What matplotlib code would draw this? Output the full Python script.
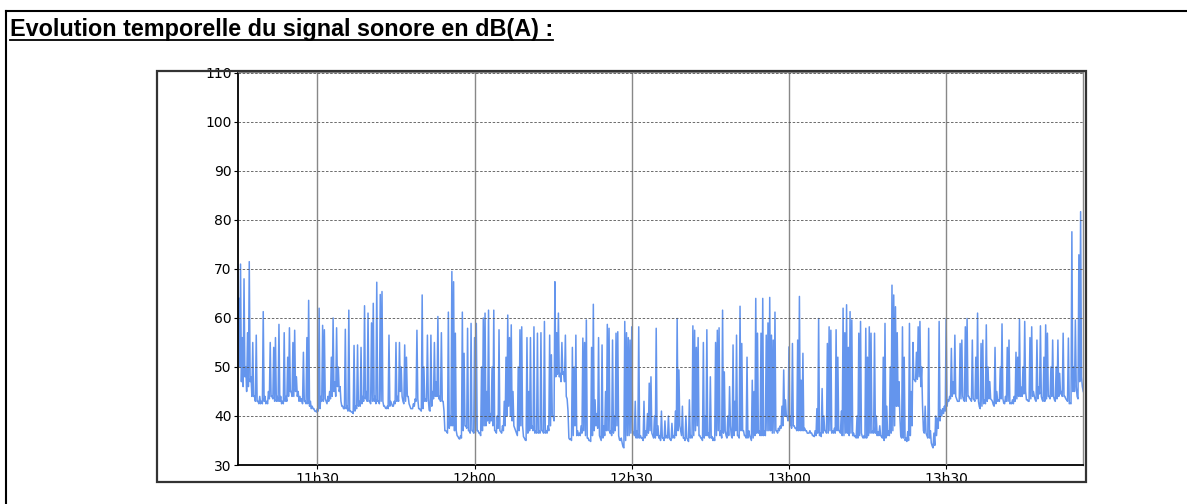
import numpy as np
import matplotlib
matplotlib.use("Agg")
import matplotlib.pyplot as plt
from matplotlib.patches import Rectangle
from matplotlib.lines import Line2D

# dB(A) readings, one every 20 s starting 11h15
# levels_* = peak of each 20 s slot, floors_* = lowest value in the same slot
levels_1115 = [64, 71, 56, 68, 50, 57, 71.5, 48, 55, 44, 56.5, 43, 44, 43, 61.3, 44,
               43, 45, 55, 44, 54, 56, 44, 58.7, 44, 43, 57, 44, 52, 58, 45, 55,
               57.5, 48, 45, 44, 43.5, 53, 43, 56, 63.6, 43, 42, 41.5, 41, 41.5, 62, 44,
               58.5, 57.6, 43, 44, 45, 52, 60, 47, 58, 50, 46, 42, 41.5, 57.7, 42, 61.6,
               41, 40.8, 54.4, 42, 54.5, 43, 54, 44, 62.5, 45, 61, 43, 59, 63, 44, 67.3,
               43, 64.8, 65.4, 42, 41.6, 42, 56.5, 43, 42, 43, 55, 44, 55, 50, 43, 54.5]
floors_1115 = [50, 47, 46, 48, 45, 46, 47, 44, 44, 43,
               43, 42.5, 42.5, 42.5, 43, 42.5, 42.5, 43.5, 44, 43.5,
               43, 43, 43, 43, 42.5, 42.5, 43, 43, 44, 45,
               44, 44, 45, 44, 43, 43, 42.5, 43, 42.5, 42.5,
               42, 41.5, 41.5, 41, 40.8, 41, 41.5, 43, 43, 43.5,
               42.5, 43, 43.5, 44, 45, 44, 46, 45, 43, 42,
               41.5, 41.5, 41, 41, 40.8, 40.5, 41, 41.5, 42, 42,
               42.5, 43, 43.5, 43, 43, 42.5, 43, 43, 42.5, 43,
               42.5, 43, 43, 42, 41.5, 41.5, 42, 42.5, 42, 42.5,
               43, 43, 45, 44, 42.5, 43]

levels_1147 = [52, 44, 42, 41.5, 42.5, 43.5, 57.5, 41.5, 41.2, 64.7, 50, 43.5, 56.5, 41.2, 56.5, 45,
               55, 47, 60.3, 44, 57, 43, 37, 36.8, 61.2, 40, 69.5, 67.4, 56.9, 36, 35.4, 36,
               61.2, 52.8, 38, 57.9, 37, 58.9, 37, 56, 58.9, 37, 36.5, 50, 60, 61, 45, 61.6,
               40.5, 50, 61.6, 37, 40, 57.6, 36.8, 38, 43, 52, 60.6, 56, 58.6, 45, 37.5, 36.5,
               50, 57.6, 58.2, 35.8, 35.1, 56, 45, 56, 38, 58.2, 37, 56.9, 37, 57, 37, 59.3,
               37, 38, 56.5, 52.5, 40, 67.4, 57, 61, 48.7, 55, 49, 56.5, 43.5, 35.5, 35.4, 54, 50]
floors_1147 = [44, 42.5, 41.5, 41.5, 42, 43, 43.5, 41.5, 41, 41.5,
               43, 43, 43.5, 41, 42, 43.5, 44, 44, 43.5, 43,
               43, 41, 37, 36.5, 37.5, 38, 38, 37, 37, 35.8,
               35.3, 35.5, 37, 38, 37.5, 37, 36.5, 37, 36.5, 36.5,
               37, 36.5, 36, 37, 38, 38, 39, 38.5, 39, 38,
               37, 36.5, 37.5, 37, 36.5, 37, 38, 40, 42, 40,
               39, 38, 37, 36, 37, 38, 38, 35.5, 35, 36.5,
               37, 37.5, 37, 36.5, 36.5, 36.5, 36.5, 37, 36.5, 36.5,
               36.5, 37, 38, 40, 39, 48, 48.5, 48, 47, 48.5,
               47, 44, 41, 35.2, 35, 36, 38]

levels_1219 = [56.5, 37, 36.5, 38, 55.9, 55, 59.6, 35.5, 35, 54, 62.8, 43.3, 40.5, 56, 35.5, 54.5,
               38, 45, 58.7, 57.9, 37, 55.5, 40, 56.9, 57.2, 35.1, 35.5, 33.7, 59.3, 57, 56, 55.5,
               58.2, 36.5, 43, 37, 58.2, 36, 35.5, 43, 37, 40.5, 46.7, 48, 36, 40, 57.9, 38,
               36, 41, 35.5, 39, 36, 40, 35.2, 38.5, 36, 41, 59.9, 49.4, 37, 42, 35.5, 40,
               35.2, 43.3, 36, 58.4, 57.5, 54, 56, 36, 35.5, 55, 40, 57.6, 36.5, 48, 35.8, 35.5,
               55, 57.5, 58, 37, 61.6, 49, 36, 40, 46, 36, 54.5, 43, 56.5, 36, 62.4, 54.8, 37]
floors_1219 = [36, 36, 36, 36.5, 37, 36, 35.5, 35, 34.8, 36,
               37, 38, 37.5, 36, 35, 35.5, 36, 37, 37, 36.5,
               36, 36.5, 37, 38, 36, 35, 34.5, 33.5, 35, 36,
               36, 36.5, 37, 36, 35.5, 35.5, 35.5, 35.5, 35, 35.5,
               36, 36.5, 37, 36.5, 35.5, 35.5, 36, 35.5, 35, 35.5,
               35, 35.5, 35.5, 35.5, 35, 35.5, 35.5, 36, 37, 38,
               36, 35.5, 35, 35.5, 34.8, 35.5, 35.5, 36, 37, 38,
               36, 35.5, 35, 35.5, 36, 36, 35.5, 35.5, 35, 35,
               36, 37, 36, 35.5, 36.5, 37, 35.5, 36, 38, 35.5,
               36, 37, 36, 35.5, 37, 37, 36]

levels_1251 = [36, 52, 37, 35.5, 47.3, 45, 64, 56.9, 37, 56.9, 64, 37, 56.5, 59, 64.2, 56.5,
               55.5, 61.2, 37, 37.5, 38, 42, 49.4, 43.3, 40, 54.1, 40, 54.8, 38, 37.5, 55.5, 64.4,
               47.3, 52.8, 37.5, 37, 36.5, 37, 36.5, 36, 37, 41.5, 59.9, 36.5, 45.6, 40, 37, 54.8,
               58.2, 57.5, 37, 37.5, 57.6, 52, 37, 41, 62, 57, 62.7, 54, 61.3, 59.6, 36.5, 36,
               40, 56.9, 59.3, 35.8, 36, 57.9, 52, 58.2, 56.9, 37, 56.9, 40, 36.8, 38, 35.8, 52,
               58.9, 42, 37, 50, 66.7, 64.7, 62.3, 57, 47, 36, 58.2, 52, 35.5, 36.8, 58.9, 45]
floors_1251 = [35.5, 35.5, 36, 35, 35.5, 36, 36.5, 36.5, 36, 36,
               36, 36, 37, 37, 37, 36.5, 36.5, 37, 36.5, 37,
               37.5, 38, 40, 40, 39, 38, 37.5, 38, 37.5, 37,
               37, 37, 37, 37, 37, 36.5, 36.5, 36.5, 36, 35.8,
               36, 36.5, 36, 35.8, 36.5, 37, 36.5, 36.5, 37, 36.5,
               36.5, 36.5, 37, 37, 36.5, 36, 36, 36.5, 36.5, 36,
               36.5, 36, 35.8, 35.5, 35.5, 36, 36.5, 35.5, 35.5, 35.5,
               36, 36.5, 36.5, 36.5, 36.5, 36, 36, 36, 35.5, 35,
               35.5, 36, 36, 36.5, 37, 38, 42, 42, 40, 35.5,
               35.5, 35, 34.8, 35, 36, 38]

levels_1323 = [55, 47.3, 53, 58.2, 59.3, 50, 37, 42, 36, 57.9, 37, 33.9, 36.5, 40, 39.5, 59.3,
               41.2, 41.5, 42, 59.9, 43.3, 44, 53.8, 47, 56.5, 43.5, 43, 54.8, 55.5, 43.3, 58.2, 59.9,
               44, 43.5, 55.5, 43.3, 52, 61, 41.9, 54.8, 55.5, 43.3, 58.6, 50, 47, 43.3, 42.3, 54,
               45, 43.3, 50, 58.8, 42.6, 44, 54, 55.5, 42.6, 43.3, 44, 53, 52, 59.7, 45.9, 50,
               59.3, 43.3, 43, 56, 58.2, 45, 43.3, 55.5, 45.9, 58.4, 43.3, 52, 58.6, 56.9, 44, 50,
               55.5, 43.3, 50, 55.5, 48.7, 45, 56.9, 44, 43.3, 55.9, 42.6, 77.6, 50, 59.6, 44, 72.9,
               81.7, 46]
floors_1323 = [47.5, 47, 47.5, 48, 46, 42, 36.5, 36.5, 35.5, 35.5,
               34.5, 33.5, 34, 36, 37.5, 39, 40, 40.5, 41, 42,
               43, 43.5, 44, 44.5, 44, 43, 43, 43.5, 44, 43,
               43, 44, 43.5, 43, 43.5, 43, 43.5, 43, 41.5, 42,
               42.5, 42.5, 43, 43.5, 43.5, 43, 42, 42.5, 43, 43,
               43.5, 43.5, 42.5, 43, 43, 42.5, 42.5, 42.5, 43, 43.5,
               44, 44, 44, 44.5, 45, 43.5, 43, 43.5, 44, 44,
               43, 43.5, 44.5, 44, 43, 43, 43.5, 44, 43.5, 44,
               44, 43, 43.5, 44, 44.5, 44, 44, 43.5, 43, 42.5,
               42.5, 45, 45, 46, 43.5, 47, 48, 45]

levels = np.array(levels_1115 + levels_1147 + levels_1219 + levels_1251 + levels_1323)
floors = np.array(floors_1115 + floors_1147 + floors_1219 + floors_1251 + floors_1323)
floors = np.minimum(floors, levels)

start_min = 15.0          # minutes after 11h00
step_min = 20 / 60
x_ticks = [30, 60, 90, 120, 150]
x_labels = ["11h30", "12h00", "12h30", "13h00", "13h30"]
y_ticks = list(range(30, 111, 10))

plt.rcParams['font.family'] = ['Liberation Sans', 'DejaVu Sans']

W, H = 1187, 504
fig = plt.figure(figsize=(W / 100, H / 100), dpi=100)

def fx(px):
    return px / W

def fy(py):
    return 1 - py / H

# outer box (top + left edges only)
fig.add_artist(Line2D([fx(6), 1.0], [fy(11), fy(11)], color='black', lw=1.5))
fig.add_artist(Line2D([fx(6), fx(6)], [fy(11), 0.0], color='black', lw=1.5))

# title, underlined by hand
title = fig.text(fx(10), fy(36), "Evolution temporelle du signal sonore en dB(A) :",
                 fontsize=16.8, fontweight='bold', va='baseline', ha='left')

# chart frame
fig.add_artist(Rectangle((fx(157), fy(481.7)), fx(1086 - 157), (481.7 - 70.7) / H,
                         transform=fig.transFigure, fill=False, ec='#333333', lw=1.6))

ax = fig.add_axes([fx(238), fy(465), fx(1083.3 - 238), (465 - 72) / H])

# peak then floor inside each 20 s slot
t = start_min + step_min * np.arange(len(levels))
tt = np.column_stack([t, t + step_min / 2]).ravel()
yy = np.column_stack([levels, floors]).ravel()
ax.plot(tt, yy, color='#6495ED', lw=1.1, zorder=2)

ax.set_xlim(14.85, 176.18)
ax.set_ylim(30, 110.2)
ax.set_xticks(x_ticks)
ax.set_xticklabels(x_labels)
ax.set_yticks(y_ticks)

ax.set_axisbelow(False)
ax.yaxis.grid(True, linestyle=(0, (3, 2)), color='#555555', lw=0.6)
ax.xaxis.grid(True, linestyle='-', color='#888888', lw=1.0)

for side in ['left', 'bottom']:
    ax.spines[side].set_color('black')
    ax.spines[side].set_linewidth(1.3)
for side in ['top', 'right']:
    ax.spines[side].set_color('#888888')
    ax.spines[side].set_linewidth(1.0)

ax.tick_params(axis='both', length=3, width=0.8, labelsize=10, pad=1.5,
               labelfontfamily='DejaVu Sans')
ax.tick_params(axis='x', pad=2)

fig.canvas.draw()
bb = title.get_window_extent()
inv = fig.transFigure.inverted()
(x0, y0), (x1, y1) = inv.transform([[bb.x0, bb.y0], [bb.x1, bb.y1]])
fig.add_artist(Line2D([x0, x1], [y0 + 1 / H, y0 + 1 / H], color='black', lw=1.3))

fig.savefig("out.png", dpi=100)
